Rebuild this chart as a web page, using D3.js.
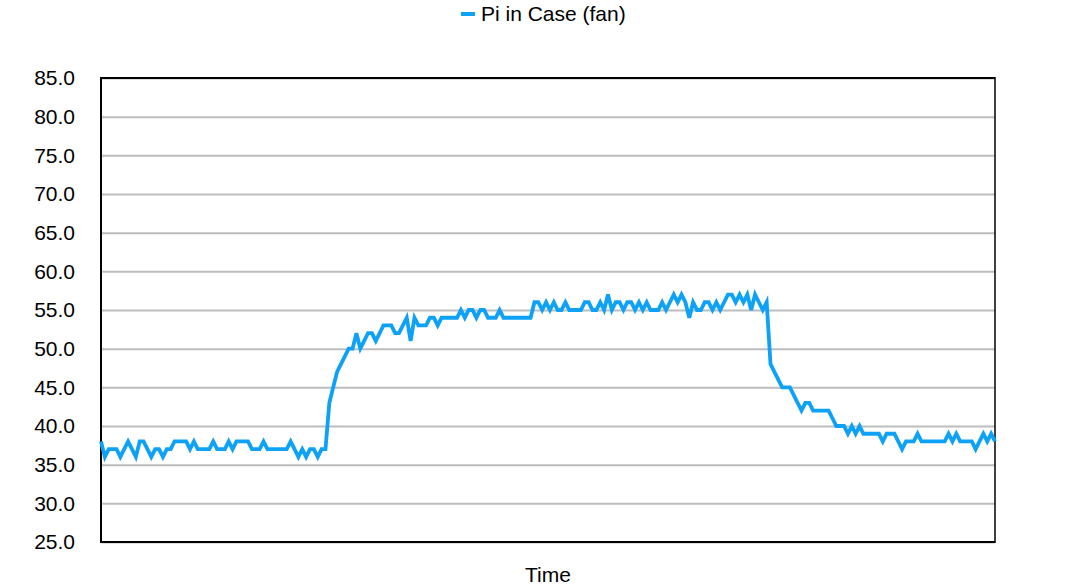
<!DOCTYPE html>
<html>
<head>
<meta charset="utf-8">
<script src="https://cdn.jsdelivr.net/npm/d3@7"></script>
<style>
  html, body { margin: 0; padding: 0; background: #fff; }
  svg { display: block; font-family: "Liberation Sans", Arial, Helvetica, sans-serif; }
</style>
</head>
<body>
<svg id="chart" width="1092" height="587"></svg>
<script>
const seriesName = "Pi in Case (fan)";
const xTitle = "Time";
const yTicks = [25, 30, 35, 40, 45, 50, 55, 60, 65, 70, 75, 80, 85];
const temps = [
  38,36,37,37,37,36,37,38,37,36,38,38,37,36,37,37,36,37,37,38,
  38,38,38,37,38,37,37,37,37,38,37,37,37,38,37,38,38,38,38,37,
  37,37,38,37,37,37,37,37,37,38,37,36,37,36,37,37,36,37,37,43,
  45,47,48,49,50,50,52,50,51,52,52,51,52,53,53,53,52,52,53,54,
  51,54,53,53,53,54,54,53,54,54,54,54,54,55,54,55,55,54,55,55,
  54,54,54,55,54,54,54,54,54,54,54,54,56,56,55,56,55,56,55,55,
  56,55,55,55,55,56,56,55,55,56,55,57,55,56,56,55,56,56,55,56,
  55,56,55,55,55,56,55,56,57,56,57,56,54,56,55,55,56,56,55,56,
  55,56,57,57,56,57,56,57,55,57,56,55,56,48,47,46,45,45,45,44,
  43,42,43,43,42,42,42,42,42,41,40,40,40,39,40,39,40,39,39,39,
  39,39,38,39,39,39,38,37,38,38,38,39,38,38,38,38,38,38,38,39,
  38,39,38,38,38,38,37,38,39,38,39,38
];

const svg = d3.select("#chart");
const plotLeft = 101, plotRight = 995, plotTop = 78, plotBottom = 542;
const lineColor = "#0da2f7";
const fontSize = 21;

const x = d3.scaleLinear().domain([0, temps.length - 1]).range([plotLeft, plotRight]);
const y = d3.scaleLinear().domain([25, 85]).range([plotBottom, plotTop]);

// gridlines
svg.append("g")
  .attr("transform", `translate(${plotLeft},0)`)
  .call(d3.axisLeft(y).tickValues(yTicks).tickSize(-(plotRight - plotLeft)).tickFormat(""))
  .call(g => g.select(".domain").remove())
  .call(g => g.selectAll("line").attr("stroke", "#bdbdbd").attr("stroke-width", 2));

// y labels
svg.append("g")
  .attr("transform", `translate(${plotLeft - 26},0)`)
  .call(d3.axisLeft(y).tickValues(yTicks).tickSize(0).tickFormat(d3.format(".1f")))
  .call(g => g.select(".domain").remove())
  .call(g => g.selectAll("text")
    .attr("font-size", fontSize)
    .attr("fill", "#000")
    .attr("font-family", "'Liberation Sans', Arial, Helvetica, sans-serif")
    .attr("text-anchor", "end")
    .attr("x", 0));

// frame
svg.append("line").attr("x1", plotLeft).attr("x2", plotRight).attr("y1", plotTop).attr("y2", plotTop)
  .attr("stroke", "#000").attr("stroke-width", 2);
svg.append("line").attr("x1", plotLeft).attr("x2", plotRight).attr("y1", plotBottom).attr("y2", plotBottom)
  .attr("stroke", "#000").attr("stroke-width", 2);
svg.append("line").attr("x1", plotLeft).attr("x2", plotLeft).attr("y1", plotTop - 1).attr("y2", plotBottom + 1)
  .attr("stroke", "#000").attr("stroke-width", 2);
svg.append("line").attr("x1", plotRight).attr("x2", plotRight).attr("y1", plotTop - 1).attr("y2", plotBottom + 1)
  .attr("stroke", "#000").attr("stroke-width", 1.5);

// series line
const line = d3.line().x((d, i) => x(i)).y(d => y(d));
svg.append("path")
  .datum(temps)
  .attr("d", line)
  .attr("fill", "none")
  .attr("stroke", lineColor)
  .attr("stroke-width", 3.8)
  .attr("stroke-linejoin", "miter")
  .attr("stroke-miterlimit", 4);

// legend
svg.append("line").attr("x1", 461).attr("x2", 475).attr("y1", 14).attr("y2", 14)
  .attr("stroke", lineColor).attr("stroke-width", 4);
svg.append("text").attr("x", 481).attr("y", 21)
  .attr("font-size", fontSize).attr("fill", "#000").text(seriesName);

// x title
svg.append("text").attr("x", 548).attr("y", 582)
  .attr("text-anchor", "middle").attr("font-size", fontSize).attr("fill", "#000").text(xTitle);
</script>
</body>
</html>
